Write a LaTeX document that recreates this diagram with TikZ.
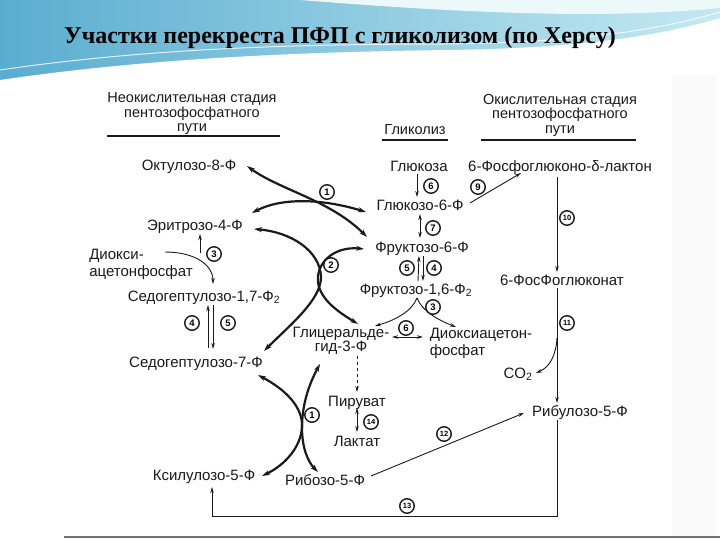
\documentclass[tikz,border=0pt]{standalone}
\usepackage{fontspec}
\setmainfont{Liberation Serif}
\newfontfamily\lf{Liberation Sans}
\usetikzlibrary{arrows.meta,calc}
\definecolor{bandL}{HTML}{5AADD0}
\definecolor{bandR}{HTML}{C4E9F2}
\definecolor{ink}{HTML}{1A1A1A}
\begin{document}
\begin{tikzpicture}[x=1pt,y=-1pt,
  lbl/.style={font=\lf\fontsize{15}{15}\selectfont, inner sep=0pt, text height=10.8pt, text depth=0pt, text=ink},
  mlbl/.style={font=\lf\fontsize{15}{17}\selectfont, inner sep=0pt, text=ink},
  hdr/.style={font=\lf\fontsize{14.5}{14.5}\selectfont, inner sep=0pt, align=center, text=ink},
  cn/.style={circle, draw=ink, line width=1.4pt, fill=white, inner sep=0pt, minimum size=14.5pt, font=\lf\bfseries\fontsize{9.5}{9.5}\selectfont},
  cns/.style={cn, font=\lf\bfseries\fontsize{7.5}{7.5}\selectfont},
  thk/.style={draw=ink, line width=2.2pt, {Stealth[length=8pt,width=5pt]}-{Stealth[length=8pt,width=5pt]}},
  thn/.style={draw=ink, line width=0.9pt, -{Stealth[length=6pt,width=3.5pt]}},
  thn2/.style={draw=ink, line width=0.9pt, {Stealth[length=6pt,width=3.5pt]}-{Stealth[length=6pt,width=3.5pt]}},
]
\useasboundingbox (0,0) rectangle (720,540);
\fill[white] (0,0) rectangle (720,540);
% ---- header band
\shade[left color=bandL, right color=bandR] (0,0) rectangle (720,90);
\fill[white!70!bandR] (300,0) .. controls (450,12) and (600,20) .. (720,8) -- (720,0) -- cycle;
\fill[white] (0,92) -- (0,80) .. controls (150,58) and (300,52) .. (450,50) .. controls (580,48) and (660,36) .. (720,18) -- (720,92) -- cycle;
\draw[white, line width=1pt, opacity=0.8] (0,70) .. controls (150,48) and (300,44) .. (450,44) .. controls (580,42) and (660,30) .. (720,12);
% ---- scan frame
\fill[black!2] (672,75) rectangle (716,536);
\draw[black!55, line width=1.5pt] (64,537) -- (720,537);
% ---- title
\node[font=\bfseries\fontsize{24}{24}\selectfont, anchor=base, inner sep=0pt] (title) at (340,44) {Участки перекреста ПФП с гликолизом (по Херсу)};
% ---- headers
\node[hdr] (hL) at (192,114) {Неокислительная стадия\\пентозофосфатного\\пути};
\draw[ink, line width=2pt] (107,136) -- (280,136);
\node[hdr] (hG) at (415,130) {Гликолиз};
\draw[ink, line width=1.5pt] (382,140) -- (448,140);
\node[hdr] (hR) at (560,115) {Окислительная стадия\\пентозофосфатного\\пути};
\draw[ink, line width=1.5pt] (481,140) -- (636,140);
% ---- compounds
\node[lbl] (okt) at (189,165) {Октулозо-8-Ф};
\node[lbl] (glc) at (419,166) {Глюкоза};
\node[lbl] (lac) at (560,166) {6-Фосфоглюконо-δ-лактон};
\node[lbl] (g6p) at (420,205) {Глюкозо-6-Ф};
\node[lbl] (e4p) at (195,225) {Эритрозо-4-Ф};
\node[mlbl, align=left] (dap1) at (141,264) {Диокси-\\ацетонфосфат};
\node[lbl] (f6p) at (422,247) {Фруктозо-6-Ф};
\node[lbl] (s17) at (204,296) {Седогептулозо-1,7-Ф\textsubscript{2}};
\node[lbl] (f16) at (416,289) {Фруктозо-1,6-Ф\textsubscript{2}};
\node[mlbl, font=\lf\fontsize{15}{14.5}\selectfont, align=center] (gap) at (341,341) {Глицеральде-\\гид-3-Ф};
\node[mlbl, align=left] (dap2) at (481,343) {Диоксиацетон-\\фосфат};
\node[lbl] (pg) at (562,280) {6-ФосФоглюконат};
\node[lbl] (co2) at (518,373) {CO\textsubscript{2}};
\node[lbl] (ru5p) at (580,411) {Рибулозо-5-Ф};
\node[lbl] (s7p) at (196,362) {Седогептулозо-7-Ф};
\node[lbl] (pyr) at (357,401) {Пируват};
\node[lbl] (lact) at (357,441) {Лактат};
\node[lbl] (xu5p) at (204,475) {Ксилулозо-5-Ф};
\node[lbl] (r5p) at (325,480) {Рибозо-5-Ф};
% ---- glycolysis column
\draw[thn] ($(glc)+(-2,8)$) -- ($(g6p)+(-3,-8)$);
\draw[thn] ($(g6p)+(50,-2)$) -- ($(lac)+(-39,7)$);
\draw[thn2] ($(g6p)+(0,9)$) -- ($(f6p)+(-2,-9)$);
\draw[thn] ($(f16)+(2,-8)$) -- ($(f6p)+(-3,9)$);
\draw[thn] ($(f6p)+(1,9)$) -- ($(f16)+(7,-8)$);
\draw[thn] ($(f16)+(1,9)$) .. controls ($(f16)+(-4,22)$) and ($(f16)+(-20,31)$) .. ($(gap)+(34,-15)$);
\draw[thn] ($(f16)+(1,9)$) .. controls ($(f16)+(6,22)$) and ($(f16)+(22,31)$) .. ($(dap2)+(-25,-16)$);
\draw[thn2] ($(gap)+(51,-4)$) -- ($(dap2)+(-58,-6)$);
\draw[thn, dashed] ($(gap)+(16,15)$) -- ($(pyr)+(0,-9)$);
\draw[thn2] ($(pyr)+(0,7)$) -- ($(lact)+(0,-9)$);
% ---- oxidative column
\draw[thn] ($(lac)+(-3,11)$) -- ($(pg)+(-5,-8)$);
\draw[thn] ($(pg)+(-5,8)$) -- ($(ru5p)+(-23,-8)$);
\draw[thn] ($(pg)+(-5,58)$) .. controls ($(pg)+(-6,75)$) and ($(pg)+(-12,87)$) .. ($(co2)+(18,0)$);
\draw[thn] ($(ru5p)+(-23,9)$) |- ($(xu5p)+(8,41)$) -- ($(xu5p)+(8,12)$);
\draw[thn] ($(r5p)+(46,-4)$) -- ($(ru5p)+(-56,2)$);
% ---- left column
\draw[thn] ($(e4p)+(5,28)$) -- ($(e4p)+(5,9)$);
\draw[thn] ($(dap1)+(24,-12)$) .. controls ($(dap1)+(54,-12)$) and ($(dap1)+(72,1)$) .. ($(s17)+(9,-12)$);
\draw[thn] ($(s7p)+(12,-14)$) -- ($(s17)+(4,9)$);
\draw[thn] ($(s17)+(9,9)$) -- ($(s7p)+(17,-13)$);
% ---- transketolase / transaldolase
\draw[thk] ($(okt)+(58,1)$) .. controls ($(okt)+(91,25)$) and ($(f6p)+(-92,-47)$) .. ($(f6p)+(-55,-10)$);
\draw[thk] ($(e4p)+(57,-12)$) .. controls ($(e4p)+(85,-27)$) and ($(g6p)+(-100,-7)$) .. ($(g6p)+(-54,7)$);
\draw[thk] ($(e4p)+(59,4)$) .. controls ($(e4p)+(95,7)$) and ($(e4p)+(125,25)$) .. ($(e4p)+(126,52)$) .. controls ($(e4p)+(126,75)$) and ($(s7p)+(94,-37)$) .. ($(s7p)+(68,-11)$);
\draw[thk] ($(f6p)+(-58,2)$) .. controls ($(f6p)+(-87,-1)$) and ($(f6p)+(-106,15)$) .. ($(f6p)+(-104,35)$) .. controls ($(f6p)+(-102,53)$) and ($(gap)+(-1,-28)$) .. ($(gap)+(17,-17)$);
\draw[thk] ($(s7p)+(62,13)$) .. controls ($(s7p)+(94,30)$) and ($(s7p)+(107,48)$) .. ($(s7p)+(106,65)$) .. controls ($(s7p)+(105,85)$) and ($(xu5p)+(81,-10)$) .. ($(xu5p)+(58,1)$);
\draw[thk] ($(gap)+(-21,23)$) .. controls ($(gap)+(-33,45)$) and ($(gap)+(-39,65)$) .. ($(gap)+(-39,87)$) .. controls ($(gap)+(-39,107)$) and ($(r5p)+(-17,-18)$) .. ($(r5p)+(-7,-8)$);
% ---- enzyme numbers
\node[cn] (n1a) at (327,192) {1};
\node[cn] (n6a) at (431,186) {6};
\node[cn] (n9) at (478,187) {9};
\node[cn] (n7) at (433,228) {7};
\node[cns] (n10) at (567,218) {10};
\node[cn] (n2) at (331,265) {2};
\node[cn] (n3a) at (214,254) {3};
\node[cn] (n5a) at (407,268) {5};
\node[cn] (n4a) at (434,268) {4};
\node[cn] (n4b) at (192,323) {4};
\node[cn] (n5b) at (228,323) {5};
\node[cn] (n3b) at (433,307) {3};
\node[cn] (n6b) at (406,328) {6};
\node[cns] (n11) at (567,323) {11};
\node[cn] (n1b) at (312,415) {1};
\node[cns] (n14) at (371,422) {14};
\node[cns] (n12) at (444,434) {12};
\node[cns] (n13) at (407,506) {13};
\end{tikzpicture}
\end{document}
